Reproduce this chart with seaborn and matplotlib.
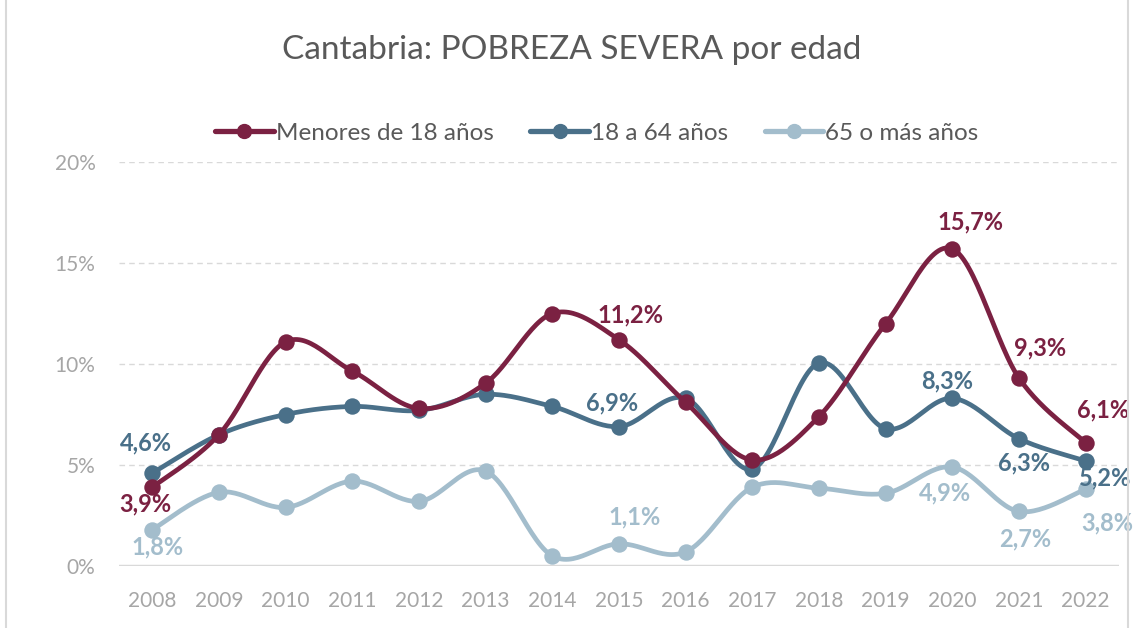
import numpy as np
import pandas as pd
import seaborn as sns
import matplotlib.pyplot as plt
from matplotlib.lines import Line2D

years = list(range(2008, 2023))
menores = [3.9, 6.5, 11.1, 9.65, 7.8, 9.05, 12.5, 11.2, 8.1, 5.25, 7.4, 12.0, 15.7, 9.3, 6.1]
adultos = [4.6, 6.5, 7.5, 7.9, 7.7, 8.5, 7.9, 6.9, 8.3, 4.8, 10.05, 6.8, 8.3, 6.3, 5.2]
mayores = [1.8, 3.65, 2.9, 4.2, 3.2, 4.7, 0.5, 1.1, 0.7, 3.9, 3.85, 3.6, 4.9, 2.7, 3.8]

series_names = ['Menores de 18 años', '18 a 64 años', '65 o más años']
colors = ['#7B2142', '#4A7089', '#A3BDCC']

# labelled points: year index, offset in pixels
labels_menores = {0: (-7, -17), 7: (11, 25), 12: (18, 27), 13: (21, 30), 14: (17, 33)}
labels_adultos = {0: (-6, 30), 7: (-7, 24), 12: (-5, 17), 13: (5, -24), 14: (19, -17)}
labels_mayores = {0: (5, -17), 7: (16, 27), 12: (-7, -26), 13: (6, -27), 14: (22, -34)}


def smooth(x, y, n=30):
    # Excel-like smoothing (Catmull-Rom bezier)
    x = np.asarray(x, float)
    y = np.asarray(y, float)
    px = np.concatenate([[x[0]], x, [x[-1]]])
    py = np.concatenate([[y[0]], y, [y[-1]]])
    xs, ys = [], []
    t = np.linspace(0, 1, n)
    for i in range(1, len(px) - 2):
        p0 = np.array([px[i - 1], py[i - 1]])
        p1 = np.array([px[i], py[i]])
        p2 = np.array([px[i + 1], py[i + 1]])
        p3 = np.array([px[i + 2], py[i + 2]])
        b1 = p1 + (p2 - p0) / 6
        b2 = p2 - (p3 - p1) / 6
        pts = (np.outer((1 - t) ** 3, p1) + np.outer(3 * (1 - t) ** 2 * t, b1)
               + np.outer(3 * (1 - t) * t ** 2, b2) + np.outer(t ** 3, p2))
        xs.extend(pts[:, 0])
        ys.extend(pts[:, 1])
    return np.array(xs), np.array(ys)


sns.set_style('white')
plt.rcParams['font.family'] = ['Lato', 'DejaVu Sans']

fig = plt.figure(figsize=(11.44, 6.28), dpi=100)
ax = fig.add_axes([119 / 1144, 1 - 566 / 628, 1000 / 1144, 404 / 628])

idx = np.arange(len(years))
all_series = [menores, adultos, mayores]
all_labels = [labels_menores, labels_adultos, labels_mayores]

for vals, name, col, labs, z in zip(all_series, series_names, colors, all_labels, [5, 4, 3]):
    vals = np.array(vals) / 100
    sx, sy = smooth(idx, vals)
    sns.lineplot(x=sx, y=sy, ax=ax, color=col, linewidth=3.4, sort=False, zorder=z)
    sns.scatterplot(x=idx, y=vals, ax=ax, color=col, s=140, edgecolor=col, linewidth=0, zorder=z + 0.5)
    for i, (dx, dy) in labs.items():
        txt = f'{vals[i] * 100:.1f}%'.replace('.', ',')
        ax.annotate(txt, (idx[i], vals[i]), xytext=(dx, dy), textcoords='offset pixels',
                    ha='center', va='center', fontsize=17, fontweight='bold', color=col, zorder=10)

ax.set_xlim(-0.5, 14.5)
ax.set_ylim(0, 0.2)
ax.set_xticks(idx)
ax.set_xticklabels([str(y) for y in years], fontsize=15, color='#A6A6A6')
ax.set_yticks([0, 0.05, 0.10, 0.15, 0.20])
ax.set_yticklabels(['0%', '5%', '10%', '15%', '20%'], fontsize=15, color='#A6A6A6')
ax.tick_params(axis='both', length=0)
ax.tick_params(axis='x', pad=18)
ax.tick_params(axis='y', pad=17)
for yv in [0.05, 0.10, 0.15, 0.20]:
    ax.axhline(yv, color='#D9D9D9', linewidth=1.0, linestyle=(0, (4, 3)), zorder=1)
ax.axhline(0, color='#D9D9D9', linewidth=2.5, zorder=2)
for s in ax.spines.values():
    s.set_visible(False)
ax.set_xlabel('')
ax.set_ylabel('')

fig.text(0.5, 1 - 50 / 628, 'Cantabria: POBREZA SEVERA por edad', ha='center', va='center',
         fontsize=24, color='#595959')

handles = [Line2D([0], [0], color=c, linewidth=3.8, marker='o', markersize=10) for c in colors]
fig.legend(handles, series_names, loc='center', bbox_to_anchor=(597 / 1144, 1 - 133 / 628),
           ncol=3, frameon=False, fontsize=17.5, labelcolor='#595959', handlelength=2.4,
           handletextpad=0.1, columnspacing=1.5)

fig.add_artist(Line2D([6 / 1144, 6 / 1144], [0, 1], color='#D9D9D9', linewidth=1.5))
fig.add_artist(Line2D([1128 / 1144, 1128 / 1144], [0, 1], color='#D9D9D9', linewidth=1.5))

fig.savefig('out.png', dpi=100)
